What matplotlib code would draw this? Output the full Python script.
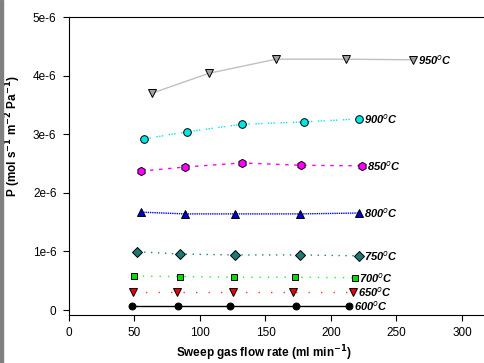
import matplotlib.pyplot as plt
import matplotlib.patches as mpatches

plt.rcParams['font.family'] = ['Liberation Sans', 'DejaVu Sans']

# flow rate (ml/min) and permeance (mol s-1 m-2 Pa-1) for each temperature
temps = ['950', '900', '850', '800', '750', '700', '650', '600']
x950 = [63.4, 106.9, 158, 211.5, 262.6]
y950 = [3.70e-6, 4.04e-6, 4.28e-6, 4.28e-6, 4.27e-6]
x900 = [57.3, 90, 132, 179.4, 221.4]
y900 = [2.92e-6, 3.04e-6, 3.17e-6, 3.21e-6, 3.26e-6]
x850 = [55, 88.5, 132, 177, 223.7]
y850 = [2.37e-6, 2.44e-6, 2.51e-6, 2.47e-6, 2.46e-6]
x800 = [55, 88.5, 126.7, 176.3, 221.4]
y800 = [1.67e-6, 1.64e-6, 1.64e-6, 1.64e-6, 1.655e-6]
x750 = [52, 84.7, 126.7, 176.3, 221.4]
y750 = [0.995e-6, 0.955e-6, 0.94e-6, 0.94e-6, 0.925e-6]
x700 = [50, 84.7, 126, 172.5, 218]
y700 = [0.58e-6, 0.57e-6, 0.56e-6, 0.56e-6, 0.55e-6]
x650 = [49, 82.4, 125, 171, 217]
y650 = [0.31e-6, 0.31e-6, 0.31e-6, 0.31e-6, 0.31e-6]
x600 = [48, 83, 123, 173, 214]
y600 = [0.07e-6, 0.07e-6, 0.07e-6, 0.07e-6, 0.07e-6]

series = [
    (x950, y950, '#c0c0c0', '-', 'v', '#a0a0a0', 5.5),
    (x900, y900, '#00e5e5', (0, (1, 1, 1, 1, 1, 4)), 'o', '#00e5e5', 5.5),
    (x850, y850, '#ff00ff', (0, (2.5, 4)), 'h', '#ff00ff', 6),
    (x800, y800, '#0000ff', (0, (1, 0.6)), '^', '#0000cc', 5.5),
    (x750, y750, '#1a8080', (0, (1, 4)), 'D', '#1a7a7a', 5),
    (x700, y700, '#22ee22', (0, (1, 5)), 's', '#00dd00', 5),
    (x650, y650, '#ff3333', (0, (1, 8)), 'v', '#ee0000', 5.5),
    (x600, y600, '#000000', '-', 'o', '#000000', 5),
]

fig = plt.figure(figsize=(4.84, 3.63), dpi=100)
ax = fig.add_axes([69 / 484, 48 / 363, 1 - 69 / 484, 298 / 363])

for (xs, ys, lc, ls, mk, mc, ms), t in zip(series, temps):
    ax.plot(xs, ys, color=lc, linestyle=ls, linewidth=1.0, zorder=2)
    ax.plot(xs, ys, linestyle='none', marker=mk, markersize=ms,
            markerfacecolor=mc, markeredgecolor='black', markeredgewidth=0.7, zorder=3)
    ax.text(xs[-1] + 3.5, ys[-1], t + '$^{o}$C', fontsize=8, fontweight='bold',
            fontstyle='italic', va='center', ha='left')

ax.set_xlim(0, 316.8)
ax.set_ylim(-0.085e-6, 5e-6)
ax.set_xticks([0, 50, 100, 150, 200, 250, 300])
ax.set_yticks([0, 1e-6, 2e-6, 3e-6, 4e-6, 5e-6])
ax.set_yticklabels(['0', '1e-6', '2e-6', '3e-6', '4e-6', '5e-6'])
ax.tick_params(labelsize=8.5, direction='out', length=4, width=0.8, pad=5)
ax.spines['right'].set_visible(False)
ax.set_xlabel('Sweep gas flow rate (ml min$^{\\mathbf{-1}}$)', fontsize=8.5,
              fontweight='bold', va='center')
ax.xaxis.set_label_coords(0.47, -0.128)
ax.set_ylabel('P (mol s$^{\\mathbf{-1}}$ m$^{\\mathbf{-2}}$ Pa$^{\\mathbf{-1}}$)',
              fontsize=8.5, fontweight='bold', va='center')
ax.yaxis.set_label_coords(-0.135, 0.6)

# gray border strip at the left edge
fig.patches.append(mpatches.Rectangle((0, 0), 3 / 484, 1, transform=fig.transFigure,
                                      color='#808080', zorder=0))

fig.savefig('out.png', dpi=100)
